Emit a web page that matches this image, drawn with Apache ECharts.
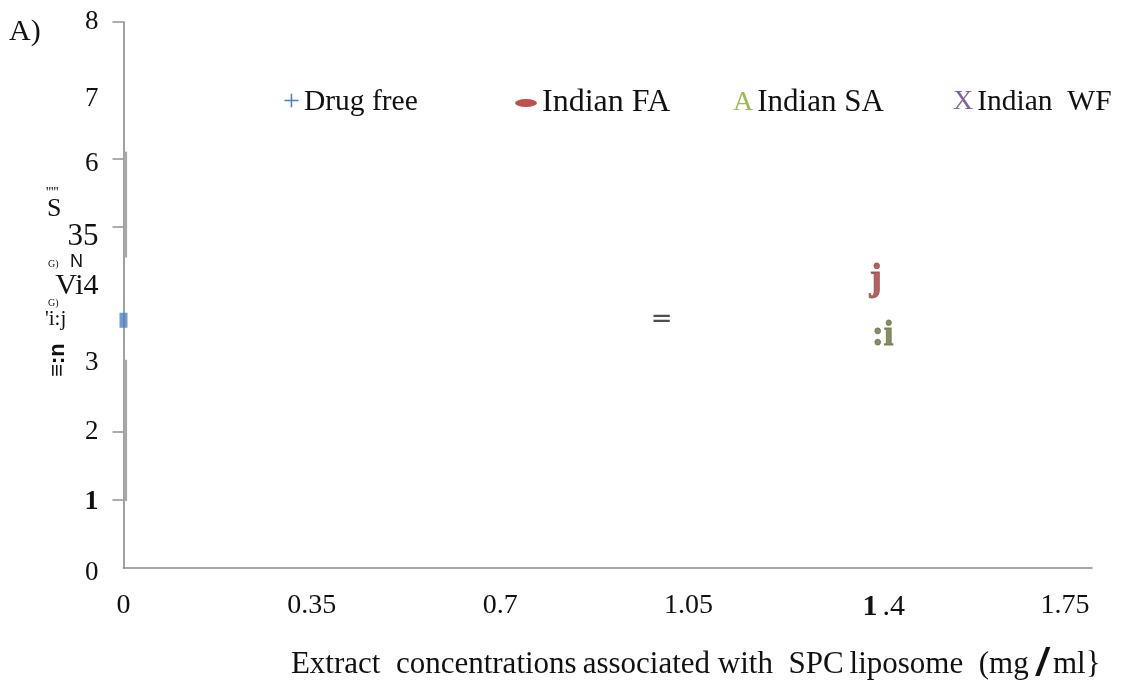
<!DOCTYPE html>
<html>
<head>
<meta charset="utf-8">
<script src="https://cdn.jsdelivr.net/npm/echarts@6/dist/echarts.min.js"></script>
<style>
  html, body { margin: 0; padding: 0; background: #fff; }
  #chart { width: 1124px; height: 680px; }
</style>
</head>
<body>
<div id="chart"></div>
<script>
// Series values: [extract concentration (mg/ml), response]
const drugFree = [[0, 3.63]];
const indianFA = [[1.4, 4.22]];
const indianSA = [[1.4, 3.41]];
const indianWF = [];
const strayMark = [[1.0, 3.66]];
// Vertical range bars drawn along the zero concentration line: [x, from, to]
const rangeBars = [[0, 4.55, 6.1], [0, 0.98, 3.05]];

// Axis ticks and their printed labels
const xTickValues = [0, 0.35, 0.7, 1.05, 1.4, 1.75];
const xTickLabels = ['0', '0.35', '0.7', '1.05', '{b|1}{p|.4}', '1.75'];
const yTickValues = [0, 1, 2, 3, 4, 5, 6, 7, 8];
const yTickLabels = ['{d0|0}', '{b|1}', '2', '3', '{u4|Vi4}', '{d5|35}', '{d6|6}', '{d7|7}', '8'];
const yTickMarks = [1, 2, 5, 6, 8];

// Legend entries: series name, printed text, glyph and colour
const legendNames = ['Drug free', 'Indian FA', 'Indian SA', 'Indian WF'];
const legendTexts = ['Drug free', 'Indian FA', 'Indian SA', 'Indian  WF'];
const legendGlyphs = ['+', '', 'A', 'X'];
const legendColors = ['#4f81bd', '#c0504d', '#9bbb59', '#8064a2'];

const serif = '"Liberation Serif", "DejaVu Serif", serif';
const ellipseIcon = 'path://M0,4a11,4 0 1,0 22,0a11,4 0 1,0 -22,0z';
const chart = echarts.init(document.getElementById('chart'));

const legendLeft = [273, 510, 723, 943];
const legendFont = [29.5, 32, 31, 29.5];
const legends = legendNames.map((name, i) => {
  const ellipse = i === 1;
  return {
    data: [ellipse ? { name: name, itemStyle: { color: legendColors[i], opacity: 1 } } : name],
    left: legendLeft[i],
    top: 82,
    icon: ellipse ? ellipseIcon : 'none',
    itemWidth: ellipse ? 22 : 0,
    itemHeight: ellipse ? 8 : 0,
    itemStyle: { opacity: 1 },
    selectedMode: false,
    formatter: () => (ellipse ? '' : '{g|' + legendGlyphs[i] + '}') + '{t|' + legendTexts[i] + '}',
    textStyle: {
      fontFamily: serif,
      rich: {
        g: { fontFamily: serif, fontSize: i === 0 ? 30 : 28, color: legendColors[i], padding: [0, 4, 0, 0] },
        t: { fontFamily: serif, fontSize: legendFont[i], color: '#111' }
      }
    }
  };
});

function glyphSeries(name, data, glyph, color, size, offset) {
  return {
    name: name,
    type: 'scatter',
    data: data,
    symbol: 'circle',
    symbolSize: 1,
    itemStyle: { color: 'rgba(0,0,0,0)' },
    label: {
      show: true,
      position: 'inside',
      formatter: glyph,
      color: color,
      fontFamily: serif,
      fontWeight: 'bold',
      fontSize: size,
      textBorderColor: color,
      textBorderWidth: 0.8,
      offset: offset || [0, 0]
    },
    emphasis: { disabled: true },
    z: 4
  };
}

chart.setOption({
  animation: false,
  backgroundColor: '#fff',
  legend: legends,
  grid: { left: 123.5, right: 32, top: 22, bottom: 112, containLabel: false, outerBoundsMode: 'none' },
  xAxis: {
    type: 'value',
    min: 0,
    max: 1.8,
    name: 'Extract  concentrations{s|associated with  SPC}{s|liposome  (mg }{sl|/}{s|ml}}',
    nameLocation: 'middle',
    nameGap: 78,
    nameTextStyle: {
      fontFamily: serif,
      fontSize: 31,
      color: '#111',
      padding: [0, 0, 0, 176],
      rich: {
        s: { fontFamily: serif, fontSize: 31, color: '#111', padding: [0, 0, 0, 6] },
        sl: { fontFamily: '"Liberation Sans", sans-serif', fontSize: 38, fontStyle: 'italic', fontWeight: 'bold', color: '#111' }
      }
    },
    axisLine: { show: true, lineStyle: { color: '#8a8a8a', width: 1.6 } },
    axisTick: { show: false },
    splitLine: { show: false },
    axisLabel: {
      customValues: xTickValues,
      margin: 24,
      fontFamily: serif,
      fontSize: 28,
      color: '#111',
      formatter: v => {
        const i = xTickValues.findIndex(t => Math.abs(t - v) < 1e-6);
        return i >= 0 ? xTickLabels[i] : '';
      },
      rich: {
        b: { fontFamily: serif, fontSize: 30, fontWeight: 'bold', color: '#111', padding: [0, 0, 0, 14] },
        p: { fontFamily: serif, fontSize: 30, color: '#111', padding: [0, 0, 0, 5] }
      }
    }
  },
  yAxis: {
    type: 'value',
    min: 0,
    max: 8,
    axisLine: { show: true, lineStyle: { color: '#8a8a8a', width: 1.6 } },
    axisTick: { show: true, customValues: yTickMarks, length: 11, lineStyle: { color: '#999', width: 1.6 } },
    splitLine: { show: false },
    axisLabel: {
      customValues: yTickValues,
      margin: 25,
      fontFamily: serif,
      fontSize: 27,
      color: '#111',
      formatter: v => {
        const i = yTickValues.findIndex(t => Math.abs(t - v) < 1e-6);
        return i >= 0 ? yTickLabels[i] : '';
      },
      rich: {
        b: { fontFamily: serif, fontSize: 28, fontWeight: 'bold', color: '#111', padding: [5, 0, 0, 0] },
        d0: { fontFamily: serif, fontSize: 27, color: '#111', padding: [9, 0, 0, 0] },
        u4: { fontFamily: serif, fontSize: 30, color: '#111', padding: [0, 0, 18, 0] },
        d5: { fontFamily: serif, fontSize: 31, color: '#111', padding: [20, 0, 0, 0] },
        d6: { fontFamily: serif, fontSize: 27, color: '#111', padding: [11, 0, 0, 0] },
        d7: { fontFamily: serif, fontSize: 27, color: '#111', padding: [18, 0, 0, 0] }
      }
    }
  },
  series: [
    {
      name: 'range',
      type: 'custom',
      data: rangeBars,
      silent: true,
      z: 5,
      renderItem: (params, api) => {
        const top = api.coord([api.value(0), api.value(2)]);
        const bot = api.coord([api.value(0), api.value(1)]);
        return {
          type: 'line',
          shape: { x1: top[0] + 2, y1: top[1], x2: bot[0] + 2, y2: bot[1] },
          style: { stroke: '#a6a6a6', lineWidth: 3.2 }
        };
      }
    },
    {
      name: 'Drug free',
      type: 'scatter',
      data: drugFree,
      symbol: 'rect',
      symbolSize: [8, 15],
      itemStyle: { color: '#4f81bd' },
      z: 6
    },
    glyphSeries('Indian FA', indianFA, 'j', '#9c3b3b', 37, [-1, 0]),
    glyphSeries('Indian SA', indianSA, ':i', '#686e42', 35, [6, 1]),
    glyphSeries('Indian WF', indianWF, 'X', '#8064a2', 26),
    {
      name: 'mark',
      type: 'scatter',
      data: strayMark,
      symbolSize: 1,
      itemStyle: { color: 'rgba(0,0,0,0)' },
      label: {
        show: true, position: 'inside', formatter: '=',
        color: '#222', fontFamily: '"DejaVu Sans", sans-serif', fontSize: 26, offset: [0, 2]
      },
      z: 4
    }
  ],
  graphic: [
    { type: 'text', left: 9, top: 17, style: { text: 'A)', font: '30px ' + serif, fill: '#111' } },
    { type: 'text', left: 46, top: 186, style: { text: "'''''", font: '14px ' + serif, fill: '#111' } },
    { type: 'text', left: 47, top: 196, style: { text: 'S', font: '26px ' + serif, fill: '#111' } },
    { type: 'text', left: 48, top: 259, style: { text: 'G)', font: '10px ' + serif, fill: '#111' } },
    { type: 'text', left: 70, top: 253, style: { text: 'N', font: '18px "Liberation Sans", sans-serif', fill: '#111' } },
    { type: 'text', left: 48, top: 298, style: { text: 'G)', font: '10px ' + serif, fill: '#111' } },
    { type: 'text', left: 45, top: 309, style: { text: "'i:j", font: '21px ' + serif, fill: '#111' } },
    {
      type: 'text', x: 58, y: 360, rotation: Math.PI / 2,
      style: { text: '\u2261:n', font: 'bold 22px "Liberation Sans", sans-serif', fill: '#111', align: 'center', verticalAlign: 'middle' }
    }
  ]
});
</script>
</body>
</html>
